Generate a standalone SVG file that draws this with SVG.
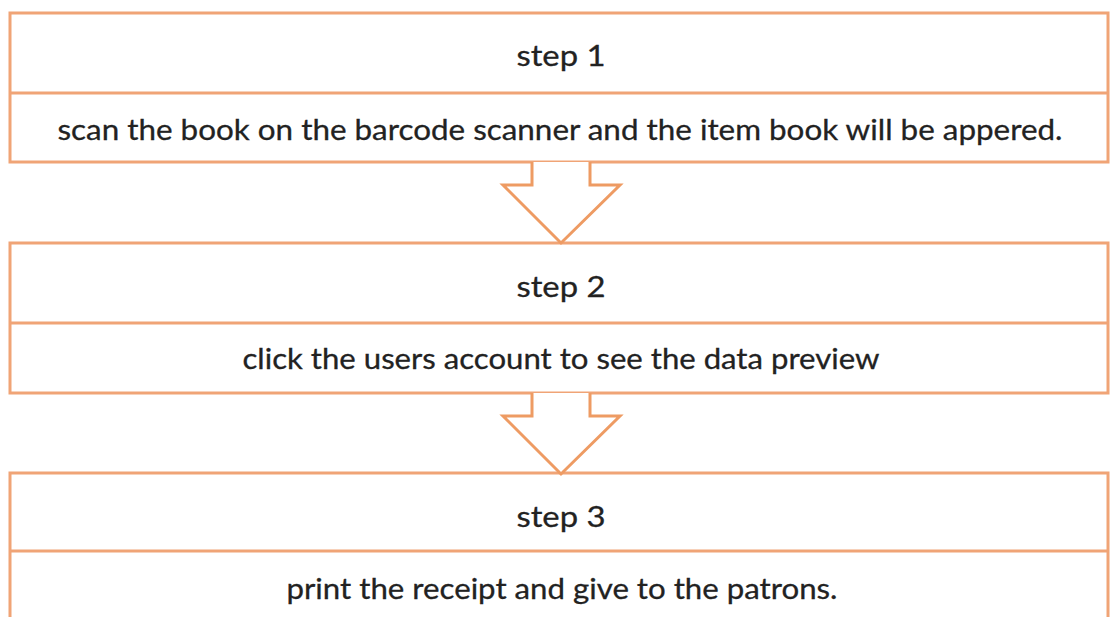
<svg xmlns="http://www.w3.org/2000/svg" width="1110" height="617" viewBox="0 0 1110 617">
  <style>
    .box { fill: #ffffff; stroke: #F0A476; stroke-width: 3; }
    .div { stroke: #F0A476; stroke-width: 3; fill: none; }
    .arrow { fill: #ffffff; stroke: #EE9B63; stroke-width: 3; stroke-linejoin: miter; }
    .t { font-family: Lato, "Open Sans", sans-serif; font-size: 29px; fill: #222222; stroke: #222222; stroke-width: 0.3; text-anchor: middle; }
  </style>
  <rect width="1110" height="617" fill="#ffffff"/>

  <g id="step1">
    <rect class="box" x="10" y="13" width="1098" height="149"/>
    <line class="div" x1="10" y1="93" x2="1108" y2="93"/>
    <text class="t" x="561" y="66" textLength="89" lengthAdjust="spacingAndGlyphs">step 1</text>
    <text class="t" x="560" y="140" textLength="1005" lengthAdjust="spacingAndGlyphs">scan the book on the barcode scanner and the item book will be appered.</text>
  </g>

  <g id="step2">
    <rect class="box" x="10" y="243" width="1098" height="150"/>
    <line class="div" x1="10" y1="323" x2="1108" y2="323"/>
    <text class="t" x="561" y="297" textLength="89" lengthAdjust="spacingAndGlyphs">step 2</text>
    <text class="t" x="561" y="369" textLength="637" lengthAdjust="spacingAndGlyphs">click the users account to see the data preview</text>
  </g>

  <g id="step3">
    <rect class="box" x="10" y="473" width="1098" height="160"/>
    <line class="div" x1="10" y1="551" x2="1108" y2="551"/>
    <text class="t" x="561" y="527" textLength="89" lengthAdjust="spacingAndGlyphs">step 3</text>
    <text class="t" x="562" y="599" textLength="551" lengthAdjust="spacingAndGlyphs">print the receipt and give to the patrons.</text>
  </g>

  <g id="connectors">
    <path class="arrow" d="M532,162 V185 H503 L561,243 L620,185 H590 V162"/>
    <path class="arrow" d="M532,393 V416 H503 L561,474 L620,416 H590 V393"/>
  </g>
</svg>
